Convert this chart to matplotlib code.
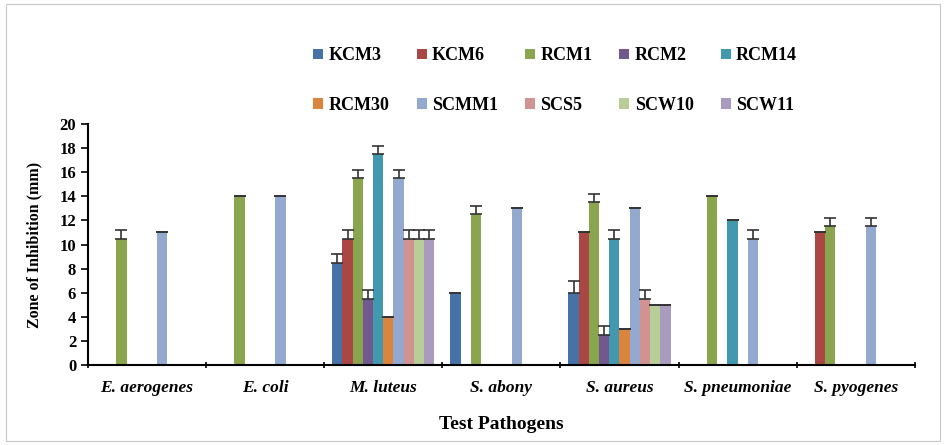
import numpy as np
import matplotlib.pyplot as plt
from matplotlib.patches import Rectangle

# Zone of inhibition (mm) for each isolate against each test pathogen
pathogens = ['E. aerogenes', 'E. coli', 'M. luteus', 'S. abony',
             'S. aureus', 'S. pneumoniae', 'S. pyogenes']
isolates = ['KCM3', 'KCM6', 'RCM1', 'RCM2', 'RCM14',
            'RCM30', 'SCMM1', 'SCS5', 'SCW10', 'SCW11']

KCM3 = [0, 0, 8.5, 6, 6, 0, 0]
KCM6 = [0, 0, 10.5, 0, 11, 0, 11]
RCM1 = [10.5, 14, 15.5, 12.5, 13.5, 14, 11.5]
RCM2 = [0, 0, 5.5, 0, 2.5, 0, 0]
RCM14 = [0, 0, 17.5, 0, 10.5, 12, 0]
RCM30 = [0, 0, 4, 0, 3, 0, 0]
SCMM1 = [11, 14, 15.5, 13, 13, 10.5, 11.5]
SCS5 = [0, 0, 10.5, 0, 5.5, 0, 0]
SCW10 = [0, 0, 10.5, 0, 5, 0, 0]
SCW11 = [0, 0, 10.5, 0, 5, 0, 0]

# standard error (upper bars only)
KCM3_err = [0, 0, 0.7, 0, 1.0, 0, 0]
KCM6_err = [0, 0, 0.7, 0, 0, 0, 0]
RCM1_err = [0.7, 0, 0.7, 0.7, 0.7, 0, 0.7]
RCM2_err = [0, 0, 0.7, 0, 0.7, 0, 0]
RCM14_err = [0, 0, 0.7, 0, 0.7, 0, 0]
RCM30_err = [0, 0, 0, 0, 0, 0, 0]
SCMM1_err = [0, 0, 0.7, 0, 0, 0.7, 0.7]
SCS5_err = [0, 0, 0.7, 0, 0.7, 0, 0]
SCW10_err = [0, 0, 0.7, 0, 0, 0, 0]
SCW11_err = [0, 0, 0.7, 0, 0, 0, 0]

values = [KCM3, KCM6, RCM1, RCM2, RCM14, RCM30, SCMM1, SCS5, SCW10, SCW11]
errors = [KCM3_err, KCM6_err, RCM1_err, RCM2_err, RCM14_err, RCM30_err,
          SCMM1_err, SCS5_err, SCW10_err, SCW11_err]
colors = ['#4572A7', '#AA4643', '#89A54E', '#71588F', '#4198AF',
          '#DB843D', '#93A9CF', '#D19392', '#B9CD96', '#A99BBD']

plt.rcParams['font.family'] = ['Liberation Serif', 'DejaVu Serif']

fig = plt.figure(figsize=(9.46, 4.45), dpi=100)
# light frame around the whole chart
fig.patches.append(Rectangle((0.006, 0.01), 0.988, 0.98, transform=fig.transFigure,
                             fill=False, edgecolor='#c8c8c8', linewidth=0.8))
ax = fig.add_axes([0.093, 0.180, 0.874, 0.541])

x = np.arange(len(pathogens))
width = 0.0865
handles = []
for i, (name, vals, errs, col) in enumerate(zip(isolates, values, errors, colors)):
    pos = x + (i - 4.5) * width
    b = ax.bar(pos, vals, width=width, color=col, label=name, zorder=2)
    handles.append(b)
    v = np.array(vals)
    e = np.array(errs)
    m = v > 0
    ax.errorbar(pos[m], v[m], yerr=[np.zeros(m.sum()), e[m]], fmt='none',
                ecolor='#333333', elinewidth=1.2, capsize=4, capthick=1.2, zorder=3)

ax.set_xlim(-0.5, len(pathogens) - 0.5)
ax.set_ylim(0, 20)
ax.set_yticks(range(0, 21, 2))
ax.set_xticks(x)
ax.set_xticklabels(pathogens, fontsize=12.5, fontweight='bold', style='italic')
ax.set_xticks(np.arange(-0.5, len(pathogens)), minor=True)
ax.tick_params(axis='x', which='major', length=0, pad=11)
ax.tick_params(axis='x', which='minor', length=4, direction='inout', width=1.2)
ax.tick_params(axis='y', length=5, width=1.2, labelsize=12)
for lab in ax.get_yticklabels():
    lab.set_fontweight('bold')

for side in ['top', 'right']:
    ax.spines[side].set_visible(False)
ax.spines['left'].set_linewidth(1.5)
ax.spines['bottom'].set_linewidth(1.5)

ax.set_xlabel('Test Pathogens', fontsize=14, fontweight='bold', labelpad=14)
ax.set_ylabel('Zone of Inhibition (mm)', fontsize=11.5, fontweight='bold', labelpad=12)

# legend filled row by row (5 per row)
order = [0, 5, 1, 6, 2, 7, 3, 8, 4, 9]
leg = fig.legend([handles[k] for k in order], [isolates[k] for k in order],
                 loc='upper left', bbox_to_anchor=(0.314, 0.93), ncol=5,
                 frameon=False, fontsize=13, handlelength=0.55, handleheight=0.55,
                 handletextpad=0.3, columnspacing=1.5, labelspacing=1.8)
for t in leg.get_texts():
    t.set_fontweight('bold')

fig.savefig('out.png', dpi=100)
